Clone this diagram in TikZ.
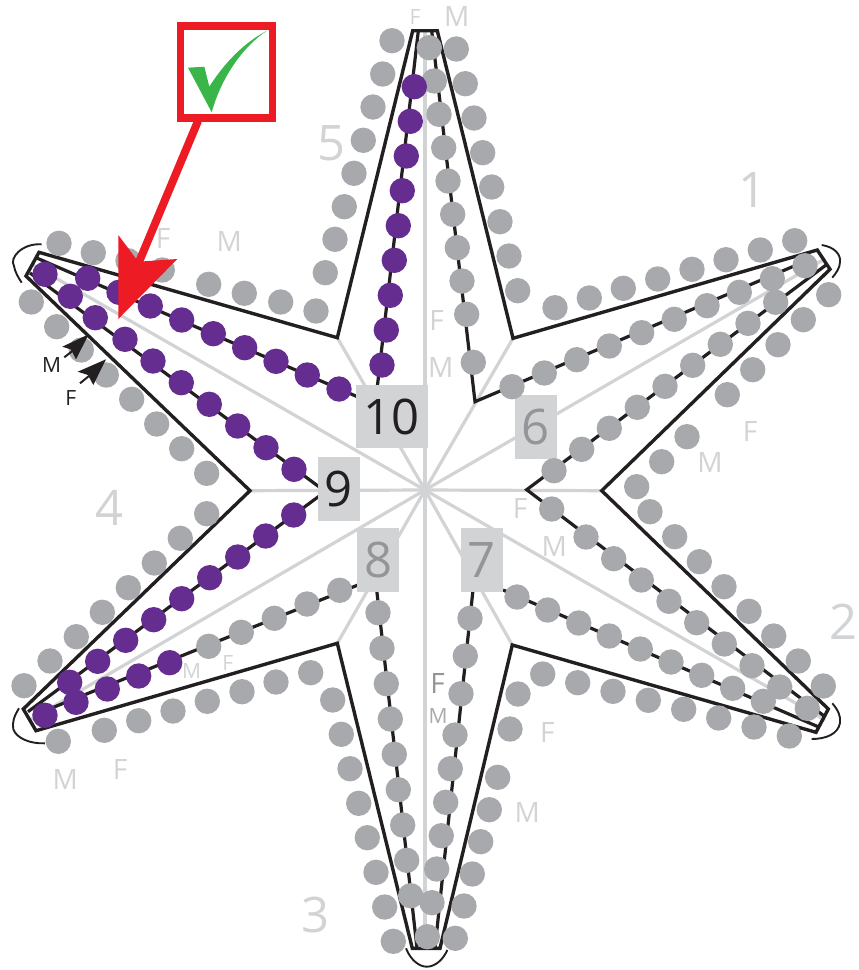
\documentclass[tikz,border=0pt]{standalone}
\usepackage{fontspec}
\setmainfont{Open Sans}
\definecolor{dotgray}{HTML}{A7A9AC}
\definecolor{palegray}{HTML}{D1D3D4}
\definecolor{midgray}{HTML}{939598}
\definecolor{ink}{HTML}{231F20}
\definecolor{dotpurple}{HTML}{662D91}
\definecolor{alarm}{HTML}{ED1C24}
\definecolor{tick}{HTML}{39B54A}
\tikzset{
  spoke/.style={draw=palegray,line width=3.2pt},
  rim/.style={draw=ink,line width=3.4pt,line join=miter},
  seam/.style={draw=ink,line width=3.2pt,line join=miter},
  capline/.style={draw=ink,line width=1.9pt},
  numbox/.style={fill=palegray,inner sep=0pt,font=\fontsize{49}{49}\selectfont},
  biglabel/.style={text=palegray,inner sep=0pt,font=\fontsize{49}{49}\selectfont},
  sexlabel/.style={text=palegray,inner sep=0pt,font=\fontsize{28}{28}\selectfont},
  smalllabel/.style={text=palegray,inner sep=0pt,font=\fontsize{21}{21}\selectfont},
}
\newcommand{\graydots}[1]{\foreach \p in {#1} \fill[dotgray] \p circle (12.7pt);}
\newcommand{\purpledots}[1]{\foreach \p in {#1} \fill[dotpurple] \p circle (12.7pt);}
\begin{document}
\begin{tikzpicture}[x=1pt,y=-1pt]
\useasboundingbox (0,0) rectangle (859,970);
% named points
\coordinate (c) at (425,490);
\coordinate (t5a) at (412.7,30.7); \coordinate (t5b) at (437.3,30.7);
\coordinate (v1) at (513,338.3);
\coordinate (t1a) at (817.3,250); \coordinate (t1b) at (830,269.3);
\coordinate (v2) at (601.7,490.7);
\coordinate (t2a) at (828.3,709); \coordinate (t2b) at (816,732.3);
\coordinate (v3) at (512.3,645);
\coordinate (t3a) at (440,948.3); \coordinate (t3b) at (412.3,948.3);
\coordinate (v4) at (337.3,643.3);
\coordinate (t4a) at (36,730.7); \coordinate (t4b) at (23.3,709);
\coordinate (v5) at (250,490.7);
\coordinate (t6a) at (26,276); \coordinate (t6b) at (39,252.3);
\coordinate (v6) at (337.3,337.7);
% pale spokes
\foreach \e in {v1,v2,v3,v4,v5,v6} \draw[spoke] (c) -- (\e);
\draw[spoke] (c) -- (425,31);
\draw[spoke] (c) -- (823,260);
\draw[spoke] (c) -- (825,720);
\draw[spoke] (c) -- (425,948);
\draw[spoke] (c) -- (30,720);
\draw[spoke] (c) -- (33,265);
% star outline
\draw[rim] (t5a) -- (t5b) -- (v1) -- (t1a) -- (t1b) -- (v2) -- (t2a) -- (t2b) -- (v3) -- (t3a) -- (t3b) -- (v4) -- (t4a) -- (t4b) -- (v5) -- (t6a) -- (t6b) -- (v6) -- cycle;
% seam lines
\draw[seam] (418.3,31) -- (376.7,392);
\draw[seam] (431.7,31) -- (475,401.7) -- (813,258);
\draw[seam] (826,265) -- (526.7,489.7) -- (825,716.7);
\draw[seam] (818,726.7) -- (503,590);
\draw[seam] (473,590) -- (435,948);
\draw[seam] (376.7,590) -- (417,948);
\draw[seam] (358,585) -- (33,715.5);
\draw[seam] (322,494) -- (28,711.7);
\draw[seam] (322,489) -- (30,273);
\draw[seam] (358,397) -- (36.7,258);
% tip caps
\draw[capline] (41.7,244.3) .. controls (22,243) and (9,258) .. (14,266) .. controls (15,272) and (18,277) .. (21.7,282.7);
\draw[capline] (821.7,245) .. controls (835,247) and (841,255) .. (840,262) .. controls (840,268) and (836,273) .. (832.3,277.7);
\draw[capline] (832.3,703.3) .. controls (838,710) and (841,716) .. (840,723) .. controls (838,734) and (826,739) .. (811.7,739);
\draw[capline] (406,948.3) .. controls (411,961) and (420,966.7) .. (426.7,966.7) .. controls (435,966.7) and (443,960) .. (447.3,950);
\draw[capline] (19,708.3) .. controls (14,716) and (12,723) .. (13.3,729) .. controls (16,738) and (30,744) .. (45,743.3);
% number boxes
\node[numbox,text=ink,minimum width=71.7pt,minimum height=63.3pt] (n10) at (391.85,416.65) {10};
\node[numbox,text=ink,minimum width=42pt,minimum height=63.4pt] (n9) at (339,489) {9};
\node[numbox,text=midgray,minimum width=42pt,minimum height=63.4pt] (n8) at (378.3,560) {8};
\node[numbox,text=midgray,minimum width=42pt,minimum height=63.4pt] (n7) at (482,560) {7};
\node[numbox,text=midgray,minimum width=42pt,minimum height=64pt] (n6) at (536,427) {6};
% gray dots
\graydots{(429.3,47.7),(434.3,81),(439,114.3),(443.7,147.7),(448,181),(452.7,214.3),(457.3,247.7),(462,281),(466.7,314.3),(473.3,362.3)}
\graydots{(456.3,49),(465.3,83.7),(474,118),(482.7,152.7),(491.7,187),(500,221.7),(509,256),(517.7,290.7)}
\graydots{(392,40.7),(382.7,74),(373,107),(363.3,140.3),(354,173.3),(344.3,206.7),(335,239.3),(325.3,272.7)}
\graydots{(555,307.7),(589.3,298),(623.3,288.3),(657.7,279),(692,269.3),(726,259.7),(760.3,250),(794.7,240.7)}
\graydots{(512,386.7),(544.3,373),(576.7,359.7),(609.3,346),(641.7,332.7),(674.3,319.3),(707,305.7),(739.3,292.3),(772.3,278.7),(805,265.7)}
\graydots{(554,470.7),(581.7,449.3),(609.3,428.3),(637.3,407.3),(665,386.3),(692.7,365.3),(720.3,344.3),(748,323.3),(775.7,302.3)}
\graydots{(828.7,294.7),(803.3,319.7),(778,344.7),(752.7,369.7),(727.3,394.7),(687,436.7),(661.7,461.7),(636.7,486.7)}
\graydots{(650,511.7),(674.7,536.7),(699.3,561.7),(724,586.7),(749,611.3),(773.7,636),(798.3,661),(823.3,686)}
\graydots{(551.7,509),(586,537),(613.7,558.7),(641.3,580),(669,601.3),(696.7,622.7),(724.3,644),(752,665.7),(779.7,687),(807.3,708.3)}
\graydots{(517,597),(547.7,610),(578.7,623),(609.3,636),(640.3,649),(671,662),(701.7,675.3),(732.7,688.3),(763.3,701.3)}
\graydots{(789.3,736),(754,727),(718.7,718),(683.7,709.3),(648.3,700.3),(613,691.3),(577.7,682.7),(542.7,674)}
\graydots{(518,694),(510,729),(497.7,777.3),(489.3,809.7),(480.7,841.7),(472.3,874),(464,906),(455.3,938.3)}
\graydots{(470,618.3),(465.3,656),(461,693.7),(455,735),(450.3,768.7),(445.7,802.3),(441.3,835.7),(436.7,869),(432,902.7),(427.3,936.7)}
\graydots{(378,612.7),(382,648.3),(386.3,683.7),(390.3,719),(394.3,754.3),(398.3,789.7),(402.7,825),(406.7,860.3),(410.7,895.7)}
\graydots{(332.7,700),(341.3,734.3),(350,768.7),(358.7,803.3),(367.3,837.7),(376,872.3),(384.7,907),(393.3,941.3)}
\graydots{(310.7,672.7),(276,682),(242,691.7),(207.3,701.3),(173,711),(138.7,720.7),(104.3,730.3),(58.3,741.3)}
\graydots{(339.7,590.3),(307,604),(274.3,618.3),(241.3,632.3),(208.7,646.3)}
\graydots{(24,685.7),(50,661),(76.3,636.7),(102.3,612.3),(128.3,587.7),(154.3,563),(180.3,538.3),(206.7,513.7)}
\graydots{(206.7,473.3),(181.7,448.7),(156.7,424),(131.7,399.3),(106.3,375),(81.3,350),(56.7,326.7),(31.3,302)}
\graydots{(316,311),(280.7,302),(244.3,293.3),(208.7,284.3),(162.3,270),(128,260.7),(93.3,252.7),(59,243.3)}
% purple dots
\purpledots{(414.3,86.7),(410.3,121.3),(406.3,156),(402.3,190.7),(398.3,225.7),(394.3,260.3),(390.3,295.3),(386.3,330),(382,365)}
\purpledots{(339,389),(307.3,375),(276,361.3),(244.7,347.7),(213.3,333.7),(181.7,320),(150.3,306),(119,292.3),(87.7,278.3)}
\purpledots{(294,469.3),(266,447.7),(237.7,426),(209.3,404.3),(181.3,382.7),(153,361),(125,339.3),(95.3,317.7),(70.3,296.3),(45,274.3)}
\purpledots{(293.7,515),(265.7,536),(237.7,557),(209.7,577.7),(181.7,598.7),(153.7,619.7),(125.7,640.3),(97.7,661.3),(69.7,682.3)}
\purpledots{(169.7,662.7),(138.7,676),(107.3,689),(76,702.3),(45,715.3)}
% pale digits
\node[biglabel] (d1) at (753,190) {1};
\node[biglabel] (d2) at (844,622) {2};
\node[biglabel] (d3) at (316,915) {3};
\node[biglabel] (d4) at (110,508) {4};
\node[biglabel] (d5) at (332,143) {5};
% sex labels
\node[smalllabel] (f0) at (415,17) {F};
\node[sexlabel] (m0) at (456.7,17) {M};
\node[sexlabel] (f1) at (163,238) {F};
\node[sexlabel] (m1) at (229.3,241.7) {M};
\node[sexlabel] (f2) at (436.7,320) {F};
\node[sexlabel] (m2) at (440.7,367) {M};
\node[sexlabel] (f3) at (750,431) {F};
\node[sexlabel] (m3) at (710,462) {M};
\node[sexlabel] (f4) at (520,508) {F};
\node[sexlabel] (m4) at (554.3,546.7) {M};
\node[sexlabel] (f5) at (547.3,732.3) {F};
\node[sexlabel] (m5) at (527.3,812.3) {M};
\node[sexlabel,text=midgray] (f6) at (437.7,683) {F};
\node[smalllabel,text=dotgray] (m6) at (438,716) {M};
\node[smalllabel] (m7) at (191.7,671) {M};
\node[smalllabel] (f7) at (227.7,663.3) {F};
\node[sexlabel] (f8) at (120,769.3) {F};
\node[sexlabel] (m8) at (65.3,779.3) {M};
\node[smalllabel,text=ink] (m9) at (51.7,365) {M};
\node[smalllabel,text=ink] (f9) at (70.7,397.7) {F};
% small black pointers
\fill[ink] (88.7,334.3) -- (62.3,346.7) -- (71,349.5) -- (76,359.3) -- cycle;
\draw[ink,line width=2pt] (64.3,357.3) -- (73,350.5);
\fill[ink] (106,359.3) -- (77.7,371.7) -- (88,375) -- (93.3,385) -- cycle;
\draw[ink,line width=2pt] (80,383.3) -- (89,376);
% red pointer
\draw[alarm,line width=7.7pt] (180.5,26) rectangle (272.5,118);
\coordinate (rs) at (198,121);
\draw[alarm,line width=8pt] (rs) -- (139,262);
\fill[alarm] (118.3,319) -- (118.3,235) -- (138.3,261.7) -- (177.3,259) -- cycle;
% tick
\fill[tick] (188,67.7) -- (204.3,66.7) -- (209.3,86.7) .. controls (225,62) and (245,42) .. (267,30.7) .. controls (245,45) and (222,75) .. (211.7,112.3) -- cycle;
\end{tikzpicture}
\end{document}
